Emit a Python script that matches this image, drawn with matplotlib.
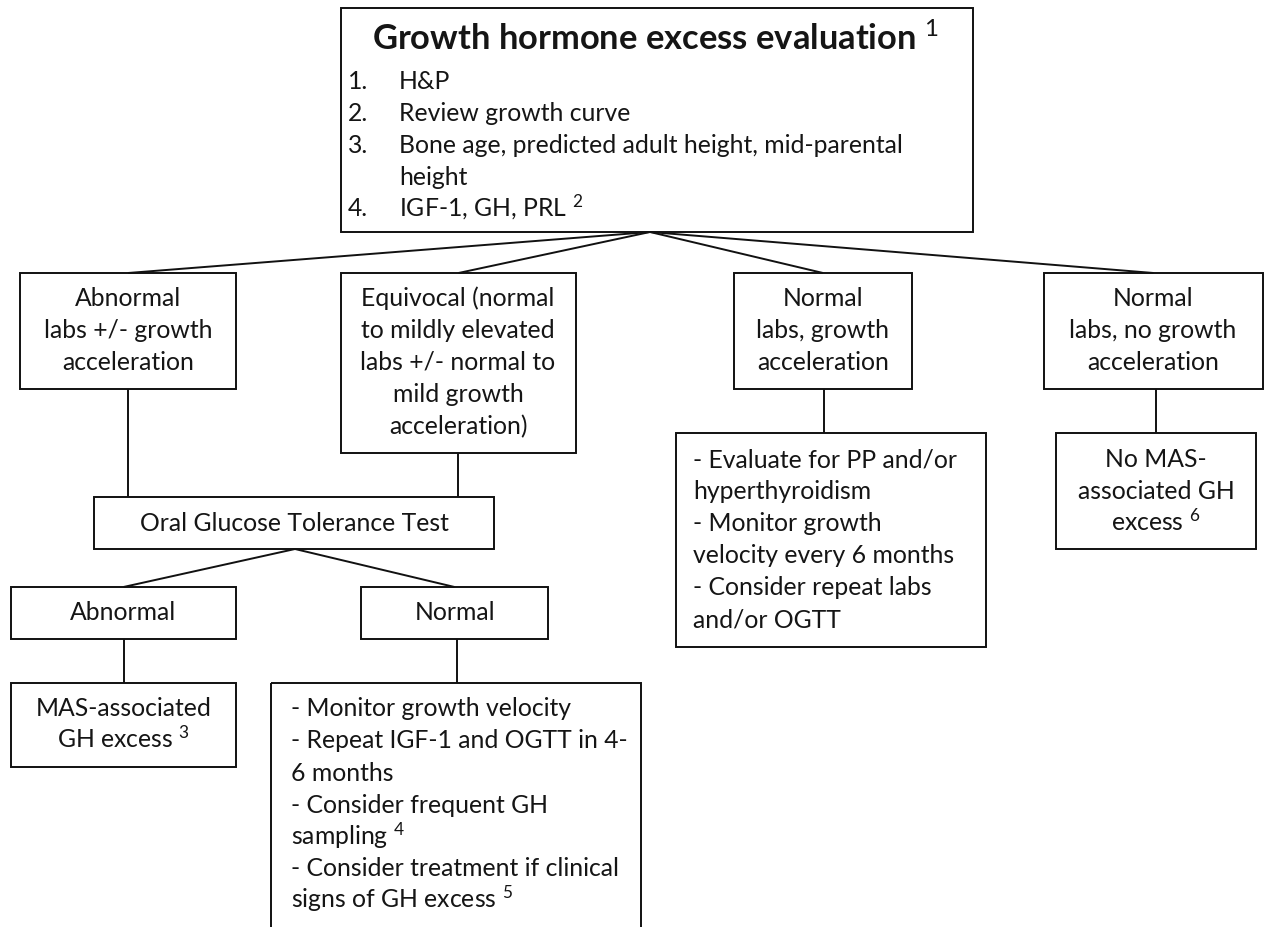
import matplotlib
matplotlib.use("Agg")
import matplotlib.pyplot as plt
from matplotlib.patches import Rectangle

plt.rcParams['font.family'] = ['Lato', 'DejaVu Sans']
plt.rcParams['mathtext.fontset'] = 'custom'
plt.rcParams['mathtext.rm'] = 'Lato'
plt.rcParams['mathtext.bf'] = 'Lato:bold'
plt.rcParams['mathtext.it'] = 'Lato:italic'

# ---------------- content ----------------
title_text = "Growth hormone excess evaluation $^{1}$"
top_numbers = ["1.", "2.", "3.", "", "4."]
top_items = ["H&P", "Review growth curve",
             "Bone age, predicted adult height, mid-parental", "height",
             "IGF-1, GH, PRL $^{2}$"]

abnormal_labs = ["Abnormal", "labs +/- growth", "acceleration"]
equivocal = ["Equivocal (normal", "to mildly elevated", "labs +/- normal to",
             "mild growth", "acceleration)"]
normal_growth = ["Normal", "labs, growth", "acceleration"]
normal_nogrowth = ["Normal", "labs, no growth", "acceleration"]
normal_growth_plan = ["- Evaluate for PP and/or", "hyperthyroidism",
                      "- Monitor growth", "velocity every 6 months",
                      "- Consider repeat labs", "and/or OGTT"]
no_mas = ["No MAS-", "associated GH", "excess $^{6}$"]
ogtt = ["Oral Glucose Tolerance Test"]
ogtt_abnormal = ["Abnormal"]
ogtt_normal = ["Normal"]
mas_gh = ["MAS-associated", "GH excess $^{3}$"]
ogtt_normal_plan = ["- Monitor growth velocity", "- Repeat IGF-1 and OGTT in 4-",
                    "6 months", "- Consider frequent GH", "sampling $^{4}$",
                    "- Consider treatment if clinical", "signs of GH excess $^{5}$"]

# ---------------- layout ----------------
W, H = 1265, 927
fig = plt.figure(figsize=(W / 100, H / 100), dpi=100)
ax = fig.add_axes([0, 0, 1, 1])
ax.set_xlim(0, W)
ax.set_ylim(H, 0)
ax.axis('off')

LC = '#111111'
TC = '#151515'
LW = 1.4
FS = 17.8

boxes = {
    'top': (341, 8, 973, 232),
    'A': (20, 273, 236, 389),
    'B': (341, 273, 576, 453),
    'C': (734, 273, 912, 389),
    'D': (1044, 273, 1263, 389),
    'E': (676, 433, 986, 647),
    'F': (1056, 433, 1256, 549),
    'O': (94, 497, 494, 549),
    'G': (11, 587, 236, 639),
    'N': (361, 587, 548, 639),
    'I': (11, 683, 236, 767),
    'J': (271, 683, 641, 960),
}

for k, (x0, y0, x1, y1) in boxes.items():
    ax.add_patch(Rectangle((x0, y0), x1 - x0, y1 - y0, fill=False,
                           ec=LC, lw=LW, clip_on=True))


def line(p, q):
    ax.plot([p[0], q[0]], [p[1], q[1]], color=LC, lw=LW, solid_capstyle='butt')


def topc(k):
    x0, y0, x1, y1 = boxes[k]
    return ((x0 + x1) / 2, y0)


apex = (650, 232)
for k in ['A', 'B', 'C', 'D']:
    line(apex, topc(k))
line((128, 389), (128, 497))
line((458, 453), (458, 497))
line((824, 389), (824, 433))
line((1156, 389), (1156, 433))
apex2 = (295, 549)
line(apex2, topc('G'))
line(apex2, topc('N'))
line((124, 639), (124, 683))
line((457, 639), (457, 683))

# ---------------- text ----------------
OFF = 8  # baseline offset from visual centre


def lines_at(lines, x, ys, ha='center'):
    for s, y in zip(lines, ys):
        ax.text(x, y + OFF, s, ha=ha, va='baseline', fontsize=FS, color=TC)


ax.text(655, 50, title_text, ha='center', va='baseline', fontsize=24.8,
        fontweight='bold', color=TC)
tys = [81, 113, 145, 177, 208]
for n, s, y in zip(top_numbers, top_items, tys):
    if n:
        ax.text(348, y + OFF, n, ha='left', va='baseline', fontsize=FS, color=TC)
    ax.text(399, y + OFF, s, ha='left', va='baseline', fontsize=FS, color=TC)

r2 = [298, 330, 362, 394, 426]
lines_at(abnormal_labs, 128, r2)
lines_at(equivocal, 458, r2)
lines_at(normal_growth, 823, r2)
lines_at(normal_nogrowth, 1153, r2)
lines_at(normal_growth_plan, 693, [459, 491, 523, 555, 587, 619], ha='left')
lines_at(no_mas, 1156, [459, 491, 523])
lines_at(ogtt, 294, [523])
lines_at(ogtt_abnormal, 123.5, [612])
lines_at(ogtt_normal, 455, [612])
lines_at(mas_gh, 123.5, [708, 740])
lines_at(ogtt_normal_plan, 291, [708, 740, 773, 805, 837, 868, 900], ha='left')

fig.savefig('out.png', dpi=100, facecolor='white')
